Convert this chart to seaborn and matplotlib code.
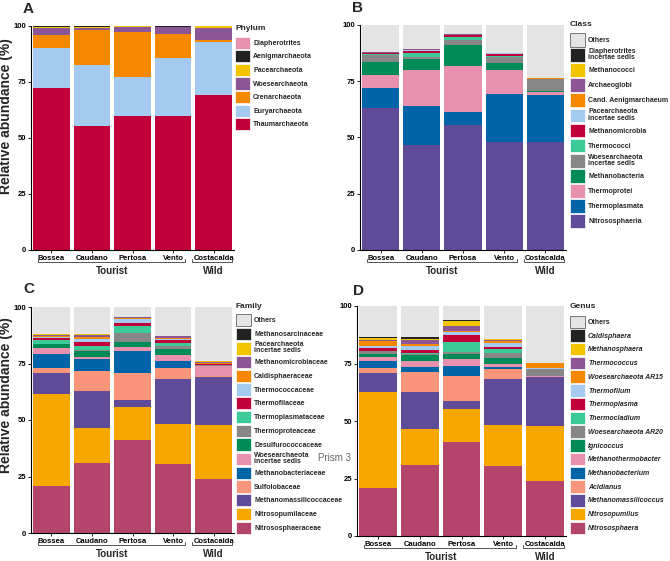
import matplotlib
matplotlib.use("Agg")
import matplotlib.pyplot as plt
import seaborn as sns
import pandas as pd
from matplotlib.patches import Patch

W, H = 670, 561

sites = ["Bossea", "Caudano", "Pertosa", "Vento", "Costacalda"]

# ---- Phylum (bottom -> top) ----
phylum_names = ["Thaumarchaeota", "Euryarchaeota", "Crenarchaeota", "Woesearchaeota",
                "Pacearchaeota", "Aenigmarchaeota", "Diapherotrites"]
phylum_colors = ["#c10039", "#a4cbef", "#f68800", "#8b5596", "#f5c400", "#222222", "#e891ae"]
phylum_bossea = [72.5, 17.7, 5.8, 3.0, 0.7, 0.1, 0.2]
phylum_caudano = [55.4, 27.1, 15.9, 0.9, 0.2, 0.4, 0.1]
phylum_pertosa = [59.6, 17.5, 20.1, 2.5, 0.1, 0.1, 0.1]
phylum_vento = [59.9, 26.0, 10.7, 2.9, 0.1, 0.3, 0.1]
phylum_costacalda = [69.4, 23.5, 1.0, 5.4, 0.5, 0.1, 0.1]

# ---- Class (bottom -> top) ----
class_names = ["Nitrososphaeria", "Thermoplasmata", "Thermoprotei", "Methanobacteria",
               "Woesearchaeota\nincertae sedis", "Thermococci", "Methanomicrobia",
               "Pacearchaeota\nincertae sedis", "Cand. Aenigmarchaeum", "Archaeoglobi",
               "Methanococci", "Diapherotrites\nincertae sedis"]
class_colors = ["#5f4b98", "#0065a8", "#e891ae", "#008a56", "#878787", "#3cca98", "#c10039",
                "#a4cbef", "#f68800", "#8b5596", "#f5c400", "#222222"]
class_bossea = [63.3, 8.7, 5.9, 5.8, 3.0, 0.2, 0.5, 0.3, 0.0, 0.1, 0.0, 0.1]
class_caudano = [46.8, 17.3, 15.8, 5.0, 0.7, 2.1, 0.9, 0.1, 0.4, 0.1, 0.2, 0.0]
class_pertosa = [55.6, 5.9, 20.3, 9.2, 2.2, 1.3, 0.9, 0.0, 0.0, 0.5, 0.0, 0.0]
class_vento = [48.1, 21.4, 10.6, 2.9, 2.6, 0.8, 0.9, 0.2, 0.0, 0.0, 0.0, 0.0]
class_costacalda = [48.0, 20.9, 1.2, 0.4, 5.5, 0.0, 0.0, 0.0, 0.5, 0.0, 0.0, 0.0]

# ---- Family (bottom -> top) ----
family_names = ["Nitrososphaeraceae", "Nitrosopumilaceae", "Methanomassilicoccaceae",
                "Sulfolobaceae", "Methanobacteriaceae", "Woesearchaeota\nincertae sedis",
                "Desulfurococcaceae", "Thermoproteaceae", "Thermoplasmataceae",
                "Thermofilaceae", "Thermococcaceae", "Caldisphaeraceae",
                "Methanomicrobiaceae", "Pacearchaeota\nincertae sedis", "Methanosarcinaceae"]
family_colors = ["#b3446c", "#f6a800", "#5f4b98", "#f9957a", "#0065a8", "#e891ae", "#008a56",
                 "#878787", "#3cca98", "#c10039", "#a4cbef", "#f68800", "#8b5596", "#f5c400",
                 "#222222"]
family_bossea = [21.0, 40.5, 9.3, 2.3, 6.0, 2.8, 1.6, 0.3, 1.5, 1.2, 0.3, 0.5, 0.4, 0.3, 0.1]
family_caudano = [31.0, 15.6, 16.3, 8.9, 5.0, 1.0, 2.6, 0.6, 1.7, 1.8, 1.3, 1.1, 0.7, 0.3, 0.1]
family_pertosa = [41.2, 14.4, 3.2, 11.9, 9.9, 1.9, 1.9, 4.3, 3.1, 1.1, 1.7, 0.6, 0.2, 0.3, 0.0]
family_vento = [30.6, 17.6, 19.9, 4.7, 3.5, 2.5, 2.5, 1.5, 1.2, 1.3, 0.7, 0.1, 1.0, 0.1, 0.0]
family_costacalda = [24.0, 23.8, 21.3, 0.3, 0.0, 4.5, 0.0, 0.3, 0.0, 0.6, 0.2, 0.2, 0.3, 0.4, 0.0]

# ---- Genus (bottom -> top) ----
genus_names = ["Nitrososphaera", "Nitrosopumilus", "Methanomassilicoccus", "Acidianus",
               "Methanobacterium", "Methanothermobacter", "Ignicoccus", "Woesearchaeota AR20",
               "Thermocladium", "Thermoplasma", "Thermofilum", "Woesearchaeota AR15",
               "Thermococcus", "Methanosphaera", "Caldisphaera"]
genus_colors = family_colors
genus_bossea = [21.0, 41.8, 7.9, 2.4, 3.1, 1.5, 1.3, 1.3, 0.3, 1.3, 0.7, 2.3, 0.3, 1.0, 0.5]
genus_caudano = [30.8, 15.6, 16.4, 8.3, 2.5, 2.3, 2.8, 0.3, 0.7, 1.2, 1.5, 0.9, 1.9, 0.3, 0.9]
genus_pertosa = [40.9, 14.5, 3.2, 11.1, 4.2, 3.0, 2.2, 1.0, 4.2, 2.9, 1.6, 0.5, 2.0, 2.0, 0.5]
genus_vento = [30.6, 17.6, 19.9, 4.5, 0.7, 1.7, 2.6, 2.1, 1.4, 1.2, 1.4, 0.9, 0.6, 0.3, 0.1]
genus_costacalda = [23.8, 24.0, 21.4, 0.0, 0.0, 0.3, 0.2, 3.0, 0.0, 0.0, 0.3, 2.2, 0.0, 0.0, 0.0]

OTHERS_COLOR = "#e4e4e4"

sns.set_theme(style="ticks")
plt.rcParams['font.family'] = ['Liberation Sans', 'DejaVu Sans']

fig = plt.figure(figsize=(W / 100, H / 100), dpi=100)


def px_axes(l, t, r, b):
    return fig.add_axes([l / W, 1 - b / H, (r - l) / W, (b - t) / H])


def stacked(ax, rows, names, colors, others):
    table = pd.DataFrame(rows, index=sites, columns=names)
    cum = table.cumsum(axis=1)
    if others:
        sns.barplot(x=sites, y=[100] * len(sites), order=sites, color=OTHERS_COLOR,
                    saturation=1, width=0.9, errorbar=None, linewidth=0, ax=ax)
    for name, col in reversed(list(zip(names, colors))):
        sns.barplot(x=sites, y=cum[name].values, order=sites, color=col,
                    saturation=1, width=0.9, errorbar=None, linewidth=0, ax=ax)
    ax.set_xlim(-0.5, 4.5)
    ax.set_ylim(0, 100)
    ax.set_yticks([0, 25, 50, 75, 100])
    ax.set_xlabel("")
    ax.set_ylabel("")
    sns.despine(ax=ax)
    for s in ("left", "bottom"):
        ax.spines[s].set_color("black")
        ax.spines[s].set_linewidth(0.8)
    ax.tick_params(axis="both", length=2, width=0.6, pad=1.5, labelsize=5.5, colors="black")
    for lab in ax.get_xticklabels() + ax.get_yticklabels():
        lab.set_fontweight("bold")


def brackets(ax, h):
    tr = ax.get_xaxis_transform()
    y = -12 / h
    up = 3 / h
    for x0, x1, xc, label in [(-0.33, 3.3, 1.5, "Tourist"), (3.47, 4.45, 4.0, "Wild")]:
        ax.plot([x0, x0, x1, x1], [y + up, y, y, y + up], transform=tr, clip_on=False,
                color="#555555", lw=0.7)
        ax.text(xc, y - 9 / h, label, transform=tr, ha="center", va="center",
                fontsize=7, fontweight="bold")


def legend(ax, title, names, colors, others, x, y_title, y_top, hh, ls, italic=False, lsp=1.0):
    labels = list(reversed(names))
    cols = list(reversed(colors))
    handles = [Patch(facecolor=c, edgecolor="white", linewidth=0.5) for c in cols]
    if others:
        labels = ["Others"] + labels
        handles = [Patch(facecolor=OTHERS_COLOR, edgecolor="#777777", linewidth=0.7)] + handles
    fig.text(x / W, 1 - y_title / H, title, fontsize=6, fontweight="bold", va="center", ha="left")
    leg = ax.legend(handles, labels, loc="upper left",
                    bbox_to_anchor=(x / W, 1 - y_top / H), bbox_transform=fig.transFigure,
                    frameon=False, prop={"weight": "bold", "size": 5},
                    handlelength=2.1, handleheight=hh, labelspacing=ls, handletextpad=0.5,
                    borderpad=0, borderaxespad=0)
    for t in leg.get_texts():
        t.set_linespacing(lsp)
        if italic and t.get_text() != "Others":
            t.set_style("italic")
    return leg


def ylabel(ax, x_frac, y_frac):
    ax.set_ylabel("Relative abundance (%)", fontsize=10, fontweight="bold")
    ax.yaxis.set_label_coords(x_frac, y_frac)


axA = px_axes(31, 26, 234, 250)
stacked(axA, [phylum_bossea, phylum_caudano, phylum_pertosa, phylum_vento, phylum_costacalda],
        phylum_names, phylum_colors, others=False)
brackets(axA, 224)
ylabel(axA, -0.089, 0.60)
legend(axA, "Phylum", phylum_names, phylum_colors, False, 235, 28, 36.5, 2.33, 0.2)

axB = px_axes(360, 25, 566, 250)
stacked(axB, [class_bossea, class_caudano, class_pertosa, class_vento, class_costacalda],
        class_names, class_colors, others=True)
brackets(axB, 225)
legend(axB, "Class", class_names, class_colors, True, 570, 24, 33, 2.65, 0.2, lsp=0.85)

axC = px_axes(31, 307, 234, 533)
stacked(axC, [family_bossea, family_caudano, family_pertosa, family_vento, family_costacalda],
        family_names, family_colors, others=True)
brackets(axC, 226)
ylabel(axC, -0.089, 0.61)
legend(axC, "Family", family_names, family_colors, True, 236, 307, 314, 2.36, 0.2, lsp=0.8)

axD = px_axes(357, 306, 566, 536)
stacked(axD, [genus_bossea, genus_caudano, genus_pertosa, genus_vento, genus_costacalda],
        genus_names, genus_colors, others=True)
brackets(axD, 230)
legend(axD, "Genus", genus_names, genus_colors, True, 570, 307, 315.5, 2.36, 0.2, italic=True)

for lbl, x, y in [("A", 23, 9), ("B", 352, 8), ("C", 23, 289), ("D", 353, 291)]:
    fig.text(x / W, 1 - y / H, lbl, fontsize=11, fontweight="bold", va="center", ha="left")

fig.text(318 / W, 1 - 458 / H, "Prism 3", fontsize=7, color="#666666", va="center")

fig.savefig("out.png", dpi=100)
